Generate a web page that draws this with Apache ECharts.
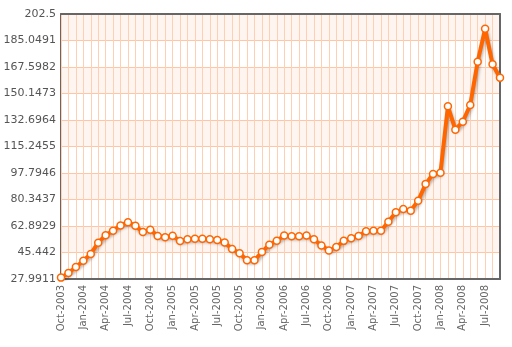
<!DOCTYPE html>
<html>
<head>
<meta charset="utf-8">
<script src="https://cdn.jsdelivr.net/npm/echarts@6/dist/echarts.min.js"></script>
<style>
html,body{margin:0;padding:0;background:#fff;}
#c{width:512px;height:347px;}
</style>
</head>
<body>
<div id="c"></div>
<script>
var categories = [
 'Oct-2003','Nov-2003','Dec-2003',
 'Jan-2004','Feb-2004','Mar-2004','Apr-2004','May-2004','Jun-2004','Jul-2004','Aug-2004','Sep-2004','Oct-2004','Nov-2004','Dec-2004',
 'Jan-2005','Feb-2005','Mar-2005','Apr-2005','May-2005','Jun-2005','Jul-2005','Aug-2005','Sep-2005','Oct-2005','Nov-2005','Dec-2005',
 'Jan-2006','Feb-2006','Mar-2006','Apr-2006','May-2006','Jun-2006','Jul-2006','Aug-2006','Sep-2006','Oct-2006','Nov-2006','Dec-2006',
 'Jan-2007','Feb-2007','Mar-2007','Apr-2007','May-2007','Jun-2007','Jul-2007','Aug-2007','Sep-2007','Oct-2007','Nov-2007','Dec-2007',
 'Jan-2008','Feb-2008','Mar-2008','Apr-2008','May-2008','Jun-2008','Jul-2008','Aug-2008','Sep-2008'
];
var values = [
 28.9, 31.9, 35.9,
 40.0, 44.5, 51.9, 56.8, 59.8, 63.3, 65.3, 63.1, 59.0, 60.5, 56.3, 55.5,
 56.5, 53.0, 54.1, 54.5, 54.5, 54.1, 53.7, 52.0, 47.7, 44.9, 40.3, 40.3,
 45.8, 50.6, 53.2, 56.6, 56.2, 56.2, 56.6, 54.2, 50.1, 46.8, 49.1, 53.1,
 54.8, 56.3, 59.4, 59.8, 59.8, 65.7, 71.9, 74.1, 73.0, 79.5, 90.5, 97.1,
 98.0, 141.7, 126.3, 131.6, 142.6, 171.1, 192.8, 169.4, 160.5
];
var yTickLabels = ['27.9911','45.442','62.8929','80.3437','97.7946','115.2455','132.6964','150.1473','167.5982','185.0491','202.5'];
var yMin = 27.9911, yMax = 202.5, yStep = 17.45089;

var chart = echarts.init(document.getElementById('c'), null, {renderer:'canvas'});
chart.setOption({
  animation: false,
  backgroundColor: '#ffffff',
  grid: {left: 61, right: 12, top: 14, bottom: 68, containLabel: false},
  xAxis: [{
    type: 'category',
    data: categories,
    boundaryGap: false,
    axisLine: {show: true, onZero: false, lineStyle: {color: '#666666', width: 2}},
    axisTick: {show: false},
    axisLabel: {interval: 2, rotate: 90, color: '#666666', fontFamily: 'DejaVu Sans', fontSize: 10, margin: 6},
    splitLine: {show: true, interval: 0, lineStyle: {color: '#ffcfb3', width: 1}},
    z: 2
  }, {
    type: 'category',
    data: categories,
    boundaryGap: false,
    position: 'top',
    axisLine: {show: true, onZero: false, lineStyle: {color: '#666666', width: 2}},
    axisTick: {show: false},
    axisLabel: {show: false},
    splitLine: {show: false},
    z: 3
  }],
  yAxis: [{
    type: 'value',
    min: yMin, max: yMax, interval: yStep,
    axisLine: {show: true, onZero: false, lineStyle: {color: '#666666', width: 2}},
    axisTick: {show: false},
    axisLabel: {
      color: '#555555', fontFamily: 'DejaVu Sans', fontSize: 11, margin: 5,
      formatter: function (v) { return yTickLabels[Math.round((v - yMin) / yStep)]; }
    },
    splitLine: {show: true, lineStyle: {color: '#ffc6a6', width: 1}},
    splitArea: {show: true, areaStyle: {color: ['#ffffff', '#fff5f0']}},
    z: 1
  }, {
    type: 'value',
    position: 'right',
    min: yMin, max: yMax, interval: yStep,
    axisLine: {show: true, onZero: false, lineStyle: {color: '#666666', width: 2}},
    axisTick: {show: false},
    axisLabel: {show: false},
    splitLine: {show: false},
    z: 3
  }],
  series: [{
    type: 'line',
    data: values,
    xAxisIndex: 0,
    yAxisIndex: 0,
    symbol: 'circle',
    symbolSize: 7,
    showSymbol: true,
    showAllSymbol: true,
    lineStyle: {color: '#ff6600', width: 4, shadowColor: 'rgba(0,0,0,0.3)', shadowBlur: 3, shadowOffsetX: 1, shadowOffsetY: 2},
    itemStyle: {color: '#ffffff', borderColor: '#ff6600', borderWidth: 1.5},
    z: 5
  }]
});
</script>
</body>
</html>
